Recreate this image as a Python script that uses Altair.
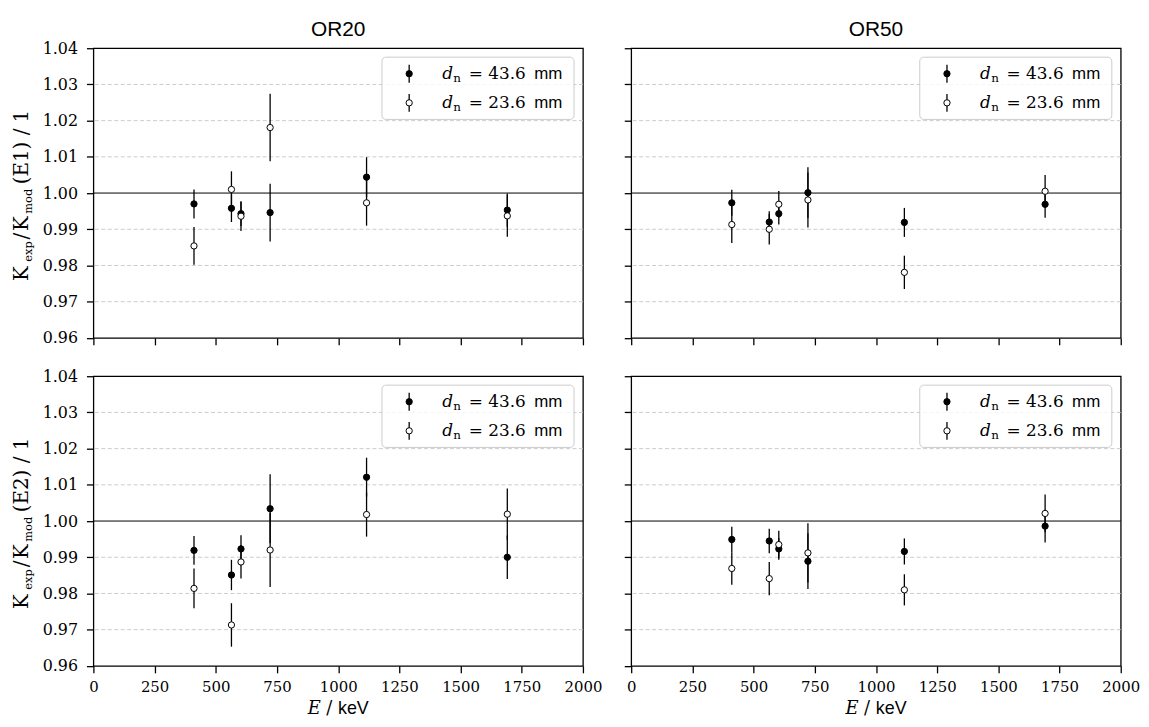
import altair as alt
import pandas as pd

# ---------------- data ----------------
ENERGY_KEV = [411, 564, 603, 722, 1116, 1691]

X_TICKS = [0, 250, 500, 750, 1000, 1250, 1500, 1750, 2000]
Y_TICKS = [0.96, 0.97, 0.98, 0.99, 1.00, 1.01, 1.02, 1.03, 1.04]
GRID_VALUES = [0.97, 0.98, 0.99, 1.01, 1.02, 1.03]

PANEL_TITLES = ["OR20", "OR50"]
ROW_LABELS = ["E1", "E2"]
LEGEND_DN = ["43.6", "23.6"]

# E1 row
OR20_E1_436 = [0.9970, 0.9958, 0.9943, 0.9946, 1.0044, 0.9953]
OR20_E1_436_ERR = [0.0040, 0.0038, 0.0034, 0.0080, 0.0055, 0.0046]
OR20_E1_236 = [0.9854, 1.0010, 0.9936, 1.0181, 0.9973, 0.9937]
OR20_E1_236_ERR = [0.0052, 0.0050, 0.0041, 0.0093, 0.0063, 0.0058]

OR50_E1_436 = [0.9973, 0.9920, 0.9943, 1.0001, 0.9919, 0.9969]
OR50_E1_436_ERR = [0.0036, 0.0030, 0.0030, 0.0070, 0.0040, 0.0037]
OR50_E1_236 = [0.9913, 0.9900, 0.9969, 0.9981, 0.9781, 1.0005]
OR50_E1_236_ERR = [0.0051, 0.0042, 0.0037, 0.0076, 0.0046, 0.0045]

# E2 row
OR20_E2_436 = [0.9919, 0.9851, 0.9923, 1.0034, 1.0121, 0.9900]
OR20_E2_436_ERR = [0.0040, 0.0042, 0.0038, 0.0095, 0.0054, 0.0060]
OR20_E2_236 = [0.9814, 0.9713, 0.9887, 0.9920, 1.0018, 1.0019]
OR20_E2_236_ERR = [0.0055, 0.0060, 0.0046, 0.0102, 0.0061, 0.0071]

OR50_E2_436 = [0.9949, 0.9945, 0.9923, 0.9889, 0.9916, 0.9986]
OR50_E2_436_ERR = [0.0035, 0.0034, 0.0030, 0.0077, 0.0036, 0.0045]
OR50_E2_236 = [0.9869, 0.9841, 0.9935, 0.9912, 0.9810, 1.0021]
OR50_E2_236_ERR = [0.0045, 0.0046, 0.0038, 0.0082, 0.0043, 0.0052]

REFERENCE_VALUE = [1.0]

# ---------------- layout / style ----------------
W = 493
H = 291.7
SERIF = "DejaVu Serif"
SANS = "Liberation Sans"
ONE = pd.DataFrame({"k": [0]})

XS = alt.Scale(domain=[0, 2000], nice=False, zero=False)
YS = alt.Scale(domain=[0.96, 1.04], nice=False, zero=False)


def x_axis(labels):
    return alt.Axis(values=X_TICKS, format="d", title=None, grid=False, domain=False,
                    ticks=True, tickSize=7, tickWidth=1.3, tickColor="black",
                    labels=labels, labelFont=SERIF, labelFontSize=15, labelColor="black",
                    labelPadding=7, labelFlush=False, labelOverlap=False)


def y_axis(labels):
    return alt.Axis(values=Y_TICKS, format=".2f", title=None, grid=False, domain=False,
                    ticks=True, tickSize=7, tickWidth=1.3, tickColor="black",
                    labels=labels, labelFont=SERIF, labelFontSize=16, labelColor="black",
                    labelPadding=9, labelOverlap=False)


def txt(s, x, y, size, font, style="normal", angle=0, align="left"):
    return alt.Chart(ONE).mark_text(
        text=s, font=font, fontSize=size, fontStyle=style, angle=angle,
        align=align, baseline="alphabetic", color="black"
    ).encode(x=alt.value(x), y=alt.value(y))


def series_layers(vals, errs, fill, xa, ya):
    df = pd.DataFrame({"E": ENERGY_KEV, "v": vals, "err": errs})
    base = alt.Chart(df).transform_calculate(
        lo="datum.v - datum.err", hi="datum.v + datum.err")
    bars = base.mark_rule(color="black", strokeWidth=1.3).encode(
        x=alt.X("E:Q", scale=XS, axis=xa),
        y=alt.Y("lo:Q", scale=YS, axis=ya),
        y2="hi:Q")
    pts = base.mark_point(shape="circle", size=40, filled=True, fill=fill,
                          stroke="black", strokeWidth=1, opacity=1).encode(
        x=alt.X("E:Q", scale=XS, axis=xa),
        y=alt.Y("v:Q", scale=YS, axis=ya))
    return [bars, pts]


def legend_layers():
    layers = [alt.Chart(ONE).mark_rect(fill="white", fillOpacity=0.8, stroke="#cccccc",
                                       strokeWidth=1, cornerRadius=4).encode(
        x=alt.value(290.6), x2=alt.value(484), y=alt.value(9), y2=alt.value(71.7))]
    for i, (dn, fill) in enumerate(zip(LEGEND_DN, ["black", "white"])):
        cy = 25.7 + 29.3 * i
        layers.append(alt.Chart(ONE).mark_rule(color="black", strokeWidth=1.3).encode(
            x=alt.value(318), y=alt.value(cy - 9), y2=alt.value(cy + 9)))
        layers.append(alt.Chart(ONE).mark_point(shape="circle", size=40, filled=True, fill=fill,
                                                stroke="black", strokeWidth=1, opacity=1).encode(
            x=alt.value(318), y=alt.value(cy)))
        layers.append(txt("d", 351.3, cy + 5.3, 17, SERIF, style="italic"))
        layers.append(txt("n", 362.5, cy + 8.6, 12, SERIF))
        layers.append(txt("= " + dn, 378, cy + 5.3, 17, SERIF))
        layers.append(txt("mm", 444, cy + 5.3, 17, SANS))
    return layers


def panel(row, col, f_vals, f_errs, o_vals, o_errs):
    xa = x_axis(row == 1)
    ya = y_axis(col == 0)
    grid = alt.Chart(pd.DataFrame({"v": GRID_VALUES})).mark_rule(
        color="#cccccc", strokeWidth=1, strokeDash=[4, 2.5]).encode(
        y=alt.Y("v:Q", scale=YS, axis=ya))
    ref = alt.Chart(pd.DataFrame({"v": REFERENCE_VALUE})).mark_rule(
        color="black", strokeWidth=1).encode(y=alt.Y("v:Q", scale=YS, axis=ya))
    layers = [grid, ref]
    layers += series_layers(f_vals, f_errs, "black", xa, ya)
    layers += series_layers(o_vals, o_errs, "white", xa, ya)
    layers += legend_layers()
    if row == 0:
        layers.append(txt(PANEL_TITLES[col], W / 2, -12, 21, SANS, align="center"))
    if col == 0:
        lab = ROW_LABELS[row]
        layers.append(txt("K", -65.7, 234.5, 20, SERIF, angle=270))
        layers.append(txt("exp", -62.0, 215.0, 11.5, SERIF, angle=270))
        layers.append(txt("/", -65.7, 192.5, 20, SERIF, angle=270))
        layers.append(txt("K", -65.7, 184.0, 20, SERIF, angle=270))
        layers.append(txt("mod", -62.0, 166.7, 11.5, SERIF, angle=270))
        layers.append(txt("(" + lab + ") / 1", -65.7, 137.0, 20, SERIF, angle=270))
    if row == 1:
        layers.append(txt("E", 215.8, 340, 18, SERIF, style="italic"))
        layers.append(txt("/", 234.5, 340, 18, SERIF))
        layers.append(txt("keV", 246.3, 340, 18, SANS))
    if row == 0 and col == 0:
        # invisible anchor that fixes the top-left extent of the page
        layers.append(alt.Chart(ONE).mark_rule(stroke="white", strokeOpacity=0, strokeWidth=0.1).encode(
            x=alt.value(-84.7), x2=alt.value(-84.7), y=alt.value(-37), y2=alt.value(-36)))
    return alt.layer(*layers).properties(width=W, height=H)


p00 = panel(0, 0, OR20_E1_436, OR20_E1_436_ERR, OR20_E1_236, OR20_E1_236_ERR)
p01 = panel(0, 1, OR50_E1_436, OR50_E1_436_ERR, OR50_E1_236, OR50_E1_236_ERR)
p10 = panel(1, 0, OR20_E2_436, OR20_E2_436_ERR, OR20_E2_236, OR20_E2_236_ERR)
p11 = panel(1, 1, OR50_E2_436, OR50_E2_436_ERR, OR50_E2_236, OR50_E2_236_ERR)

chart = alt.concat(
    p00, p01, p10, p11, columns=2,
    spacing={"row": 38.3, "column": 48.6}, bounds="flush"
).properties(
    padding={"left": 0, "top": 0, "right": 0, "bottom": 0},
    background="white"
).configure_view(
    stroke="black", strokeWidth=1.3
)

chart.save("out.html", embed_options={"renderer": "svg", "actions": False})
